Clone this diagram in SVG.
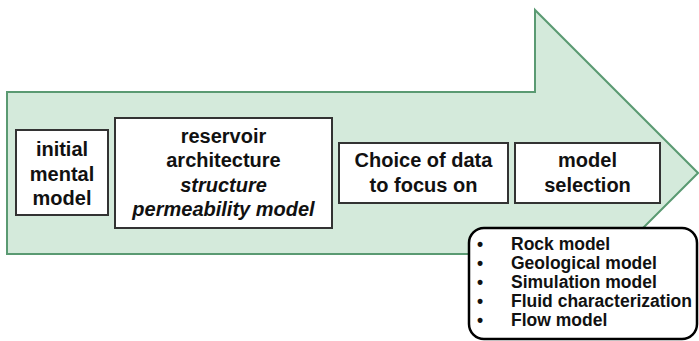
<svg xmlns="http://www.w3.org/2000/svg" width="699" height="341" viewBox="0 0 699 341">
<style>
.box{fill:#ffffff;stroke:#333333;stroke-width:2}
.t{font-family:"Liberation Sans",Arial,sans-serif;font-weight:bold;font-size:20px;fill:#111111;text-anchor:middle}
.i{font-style:italic}
.l{font-family:"Liberation Sans",Arial,sans-serif;font-weight:bold;font-size:17.5px;fill:#111111}
</style>
<rect width="699" height="341" fill="#ffffff"/>
<g id="arrow">
<path d="M7,92 L535,92 L535,10 L698,173 L535,336 L535,254 L7,254 Z" fill="#d4eadb" stroke="#5a9a72" stroke-width="2" stroke-linejoin="miter"/>
</g>
<g id="connectors"></g>
<g id="n1">
<rect class="box" x="16" y="130" width="92" height="85"/>
<text class="t" x="62" y="156">initial</text>
<text class="t" x="62" y="181">mental</text>
<text class="t" x="62" y="205">model</text>
</g>
<g id="n2">
<rect class="box" x="115" y="118" width="217" height="110"/>
<text class="t" x="223.5" y="143">reservoir</text>
<text class="t" x="223.5" y="167">architecture</text>
<text class="t i" x="223.5" y="192">structure</text>
<text class="t i" x="223.5" y="216">permeability model</text>
</g>
<g id="n3">
<rect class="box" x="339" y="143" width="169" height="60"/>
<text class="t" x="423.5" y="167">Choice of data</text>
<text class="t" x="423.5" y="192">to focus on</text>
</g>
<g id="n4">
<rect class="box" x="515" y="143" width="145" height="60"/>
<text class="t" x="587.5" y="167">model</text>
<text class="t" x="587.5" y="192">selection</text>
</g>
<g id="n5">
<rect x="469" y="228" width="228" height="111" rx="15" ry="15" fill="#ffffff" stroke="#000000" stroke-width="2.5"/>
<g class="l">
<text x="477" y="250">•</text><text x="511" y="250">Rock model</text>
<text x="477" y="269">•</text><text x="511" y="269">Geological model</text>
<text x="477" y="288">•</text><text x="511" y="288">Simulation model</text>
<text x="477" y="307">•</text><text x="511" y="307">Fluid characterization</text>
<text x="477" y="326">•</text><text x="511" y="326">Flow model</text>
</g>
</g>
</svg>
